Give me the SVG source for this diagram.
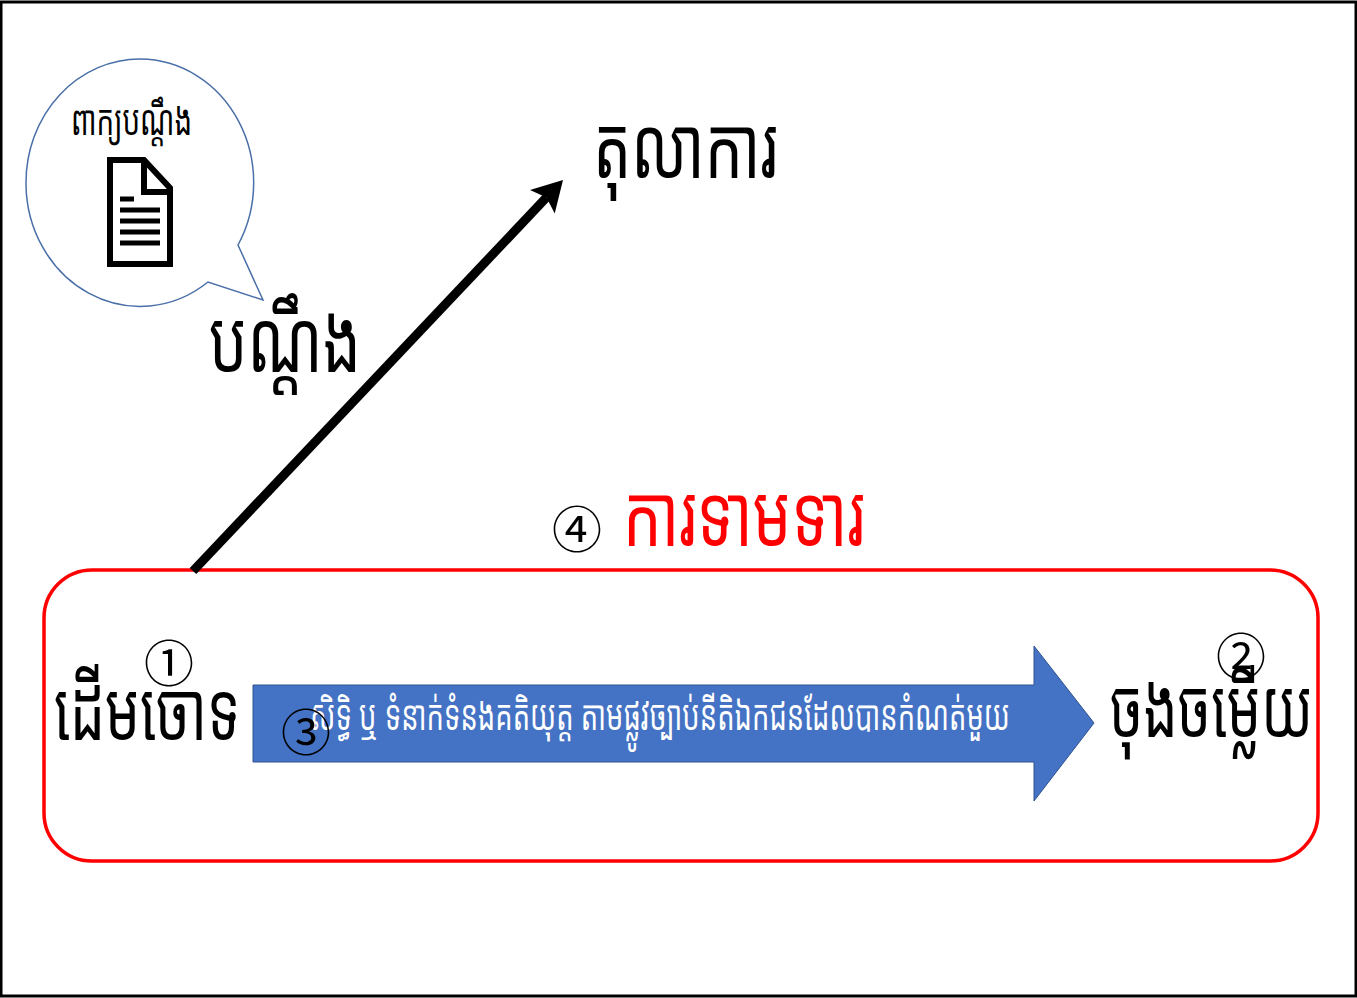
<svg xmlns="http://www.w3.org/2000/svg" width="1357" height="998" viewBox="0 0 1357 998">
<style>
text{font-family:"Noto Sans","Noto Sans Khmer","Khmer OS","Liberation Sans",sans-serif;fill:#000}
.num{font-family:"Noto Sans CJK JP","DejaVu Sans",sans-serif;font-size:50px;text-anchor:middle}
</style>
<defs>
<marker id="head" markerUnits="userSpaceOnUse" markerWidth="42" markerHeight="42" refX="8" refY="21" orient="auto"><path d="M2 4L32 21L2 38L8 21Z" fill="#000"/></marker>
</defs>
<rect width="1357" height="998" fill="#fff"/>
<g id="frame"><path d="M0 2H1356V996H1V2" fill="none" stroke="#000" stroke-width="3"/></g>
<g id="box"><rect x="44" y="570" width="1274" height="291" rx="48" fill="none" stroke="#f00" stroke-width="3.5"/></g>
<g id="connectors"><path d="M193 571L546.500 197.400" fill="none" stroke="#000" stroke-width="9" marker-end="url(#head)"/></g>
<g id="bubble">
<path d="M238 245A114 123.500 0 0 0 140 59A114 123.500 0 0 0 26 182.500A114 123.500 0 0 0 208 282L263 300Z" fill="#fff" stroke="#4a6fa8" stroke-width="1.500"/>
<text x="71" y="135" font-size="42" textLength="121" lengthAdjust="spacingAndGlyphs">ពាក្យបណ្តឹង</text>
<path d="M110 160H144L170 188V264H110Z M144 160V192H170" fill="#fff" stroke="#000" stroke-width="6"/>
<path d="M120 199H134M120 210H160M120 221H160M120 232H160M120 243H160" stroke="#000" stroke-width="5" fill="none"/>
</g>
<g id="complaint"><text x="209" y="372" font-size="86" textLength="152" lengthAdjust="spacingAndGlyphs">បណ្ដឹង</text></g>
<g id="court"><text x="593" y="178" font-size="86" textLength="185" lengthAdjust="spacingAndGlyphs">តុលាការ</text></g>
<g id="claim"><text x="577" y="548" class="num">④</text><text x="623" y="546" font-size="86" textLength="242" lengthAdjust="spacingAndGlyphs" style="fill:#f00">ការទាមទារ</text></g>
<g id="plaintiff"><text x="54" y="740" font-size="82" textLength="186" lengthAdjust="spacingAndGlyphs">ដើមចោទ</text><text x="169" y="682" class="num">①</text></g>
<g id="defendant"><text x="1110" y="737" font-size="82" textLength="203" lengthAdjust="spacingAndGlyphs">ចុងចម្លើយ</text><text x="1241" y="675" class="num">②</text></g>
<g id="right">
<path d="M253 685H1034V646L1094 723L1034 801V762H253Z" fill="#4472c4" stroke="#2f528f" stroke-width="1"/>
<text x="310" y="730" font-size="42" textLength="700" lengthAdjust="spacingAndGlyphs" style="fill:#fff">សិទ្ធិ ឬ ទំនាក់ទំនងគតិយុត្ត តាមផ្លូវច្បាប់នីតិឯកជនដែលបានកំណត់មួយ</text>
<text x="306" y="751" class="num">③</text>
</g>
</svg>
